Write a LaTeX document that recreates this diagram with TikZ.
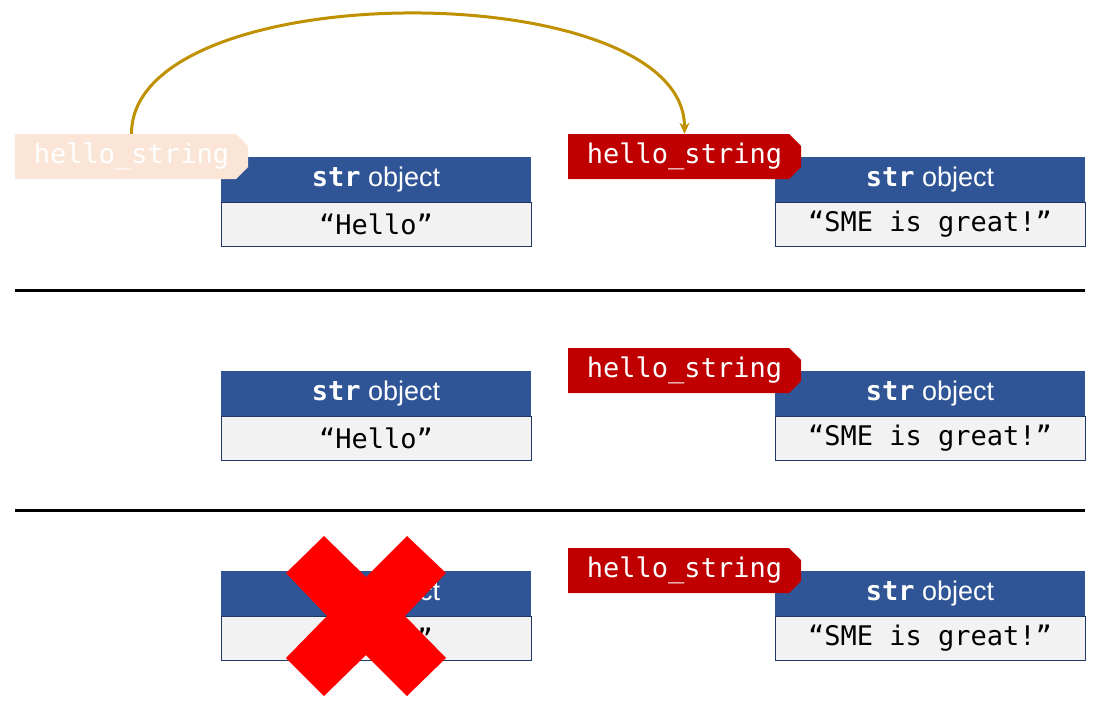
\documentclass[tikz,border=0pt]{standalone}
\usepackage{fontspec}
\newfontfamily\monof{DejaVu Sans Mono}
\newfontfamily\sansf{Liberation Sans}
\usetikzlibrary{arrows.meta,shapes.misc}
\definecolor{objblue}{HTML}{2F5597}
\definecolor{navy}{HTML}{203864}
\definecolor{bodygray}{HTML}{F2F2F2}
\definecolor{tagred}{HTML}{C00000}
\definecolor{tagfade}{HTML}{FBE5D6}
\definecolor{gold}{HTML}{BF9000}
\definecolor{xred}{HTML}{FF0000}
\begin{document}
\begin{tikzpicture}[x=1pt,y=-1pt,
  hdr/.style={fill=objblue, minimum width=310pt, minimum height=45pt, inner sep=0pt, text=white,
    font=\sansf\fontsize{27}{30}\selectfont},
  bodybox/.style={fill=bodygray, draw=navy, line width=1pt, minimum width=310pt, minimum height=44pt,
    inner sep=0pt, font=\monof\fontsize{27}{30}\selectfont},
  tagbox/.style={chamfered rectangle, chamfered rectangle corners={north east,south east},
    chamfered rectangle xsep=6pt, chamfered rectangle ysep=6pt,
    minimum width=233pt, minimum height=45pt, inner sep=0pt, text=white,
    font=\monof\fontsize{27}{30}\selectfont},
  activetag/.style={tagbox, fill=tagred},
  fadedtag/.style={tagbox, fill=tagfade},
  divider/.style={line width=3pt, black},
  pointer/.style={gold, line width=3pt, -{Stealth[length=11pt,width=10pt]}}
]
\useasboundingbox (0,0) rectangle (1095,710);
\newcommand{\strhead}{{\monof\bfseries str} object}
% ---- section 1
\node[hdr] (h1a) at (376,179.5) {\strhead};
\node[bodybox] (b1a) at (376,224) {“Hello”};
\node[hdr] (h1b) at (930,179.5) {\strhead};
\node[bodybox] (b1b) at (930,224) {“SME is great!”};
\node[fadedtag] (t1a) at (131.5,156.5) {hello\_string};
\node[activetag] (t1b) at (684.5,156.5) {hello\_string};
\draw[pointer] (t1a.north) .. controls +(0,-160) and +(0,-160) .. (t1b.north);
% dividers
\coordinate (d1l) at (15,290); \coordinate (d1r) at (1085,290);
\coordinate (d2l) at (15,510); \coordinate (d2r) at (1085,510);
\draw[divider] (d1l) -- (d1r);
\draw[divider] (d2l) -- (d2r);
% ---- section 2
\node[hdr] (h2a) at (376,393.5) {\strhead};
\node[bodybox] (b2a) at (376,438) {“Hello”};
\node[hdr] (h2b) at (930,393.5) {\strhead};
\node[bodybox] (b2b) at (930,438) {“SME is great!”};
\node[activetag] (t2b) at (684.5,370.5) {hello\_string};
% ---- section 3
\node[hdr] (h3a) at (376,593.5) {\strhead};
\node[bodybox] (b3a) at (376,638) {“Hello”};
\node[hdr] (h3b) at (930,593.5) {\strhead};
\node[bodybox] (b3b) at (930,638) {“SME is great!”};
\node[activetag] (t3b) at (684.5,570.5) {hello\_string};
% red cross
\fill[xred] (286,573) -- (324,536) -- (366,577) -- (407,536) -- (446,573) -- (405,616)
  -- (446,658) -- (407,696) -- (366,655) -- (324,696) -- (286,658) -- (327,616) -- cycle;
\end{tikzpicture}
\end{document}
